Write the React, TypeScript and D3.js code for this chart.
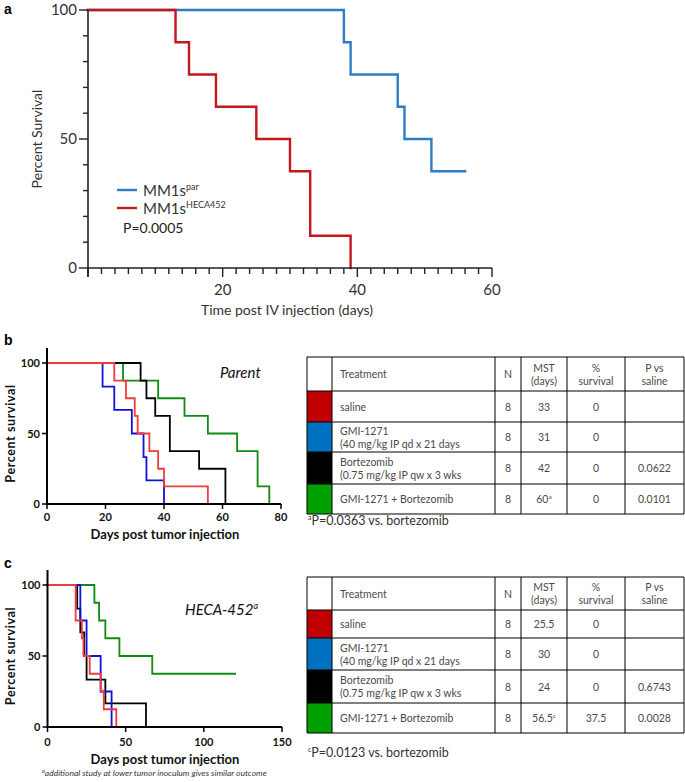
import React from "react";
import * as d3 from "d3";

// ---------- Panel a data ----------
const aParDays = [0, 38, 39, 46, 47, 51, 56];
const aParSurv = [100, 87.5, 75, 62.5, 50, 37.5, 37.5];
const aHecaDays = [0, 13, 15, 19, 25, 30, 33, 39];
const aHecaSurv = [100, 87.5, 75, 62.5, 50, 37.5, 12.5, 0];
const aXTicks = [20, 40, 60];
const aYTicks = [0, 50, 100];

// ---------- Panel b data (Parent) ----------
const bSalineDays = [0, 23, 27, 30, 31, 35, 38, 40, 55];
const bSalineSurv = [100, 87.5, 75, 62.5, 50, 37.5, 25, 12.5, 0];
const bGmiDays = [0, 19, 23, 29, 33, 34, 40];
const bGmiSurv = [100, 83.3, 66.7, 50, 33.3, 16.7, 0];
const bBortDays = [0, 32, 34, 37, 42, 52, 61];
const bBortSurv = [100, 87.5, 75, 62.5, 37.5, 25, 0];
const bComboDays = [0, 26, 38, 47, 55, 65, 72, 76];
const bComboSurv = [100, 87.5, 75, 62.5, 50, 37.5, 12.5, 0];
const bXTicks = [0, 20, 40, 60, 80];
const bYTicks = [0, 50, 100];

// ---------- Panel c data (HECA-452) ----------
const cSalineDays = [0, 18, 22, 23, 27, 34, 36, 44];
const cSalineSurv = [100, 75, 62.5, 50, 37.5, 25, 12.5, 0];
const cGmiDays = [0, 21, 25, 34, 41];
const cGmiSurv = [100, 75, 50, 25, 0];
const cBortDays = [0, 19, 21, 23.5, 25, 37, 63];
const cBortSurv = [100, 83.3, 66.7, 50, 33.3, 16.7, 0];
const cComboDays = [0, 30, 33, 37, 46, 67, 120];
const cComboSurv = [100, 87.5, 75, 62.5, 50, 37.5, 37.5];
const cXTicks = [0, 50, 100, 150];
const cYTicks = [0, 50, 100];

// ---------- Tables ----------
const tableHeaders = [["Treatment"], ["N"], ["MST", "(days)"], ["%", "survival"], ["P vs", "saline"]];
const treatments = [
  ["saline"],
  ["GMI-1271", "(40 mg/kg IP qd x 21 days"],
  ["Bortezomib", "(0.75 mg/kg IP qw x 3 wks"],
  ["GMI-1271 + Bortezomib"],
];
const treatmentColors = ["#C00000", "#0070C0", "#000000", "#00A000"];
const bN = ["8", "8", "8", "8"];
const bMST = ["33", "31", "42", "60"];
const bMSTSup = ["", "", "", "a"];
const bPct = ["0", "0", "0", "0"];
const bP = ["", "", "0.0622", "0.0101"];
const cN = ["8", "8", "8", "8"];
const cMST = ["25.5", "30", "24", "56.5"];
const cMSTSup = ["", "", "", "c"];
const cPct = ["0", "0", "0", "37.5"];
const cP = ["", "", "0.6743", "0.0028"];

const curveColors = { saline: "#F03C3C", gmi: "#1010E0", bort: "#000000", combo: "#138A13" };

const FONT = "Lato, 'Open Sans', sans-serif";

function Step({ days, surv, x, y, color, width }: any) {
  const pts: [number, number][] = days.map((d: number, i: number) => [d, surv[i]]);
  const line = d3
    .line<[number, number]>()
    .x((d) => x(d[0]))
    .y((d) => y(d[1]))
    .curve(d3.curveStepAfter);
  return <path d={line(pts) || ""} fill="none" stroke={color} strokeWidth={width} strokeLinejoin="miter" strokeLinecap="square" />;
}

function PanelA() {
  const x = d3.scaleLinear().domain([0, 60]).range([88, 492]);
  const y = d3.scaleLinear().domain([0, 100]).range([268, 10]);
  const minorX = d3.range(0, 61, 2);
  const minorY = d3.range(0, 101, 10);
  const axisColor = "#222";
  const textColor = "#333";
  return (
    <g>
      <text x={4} y={14} fontFamily="Arial, sans-serif" fontWeight="bold" fontSize={14}>a</text>
      <Step days={aParDays} surv={aParSurv} x={x} y={y} color="#2E7CC4" width={2.4} />
      <Step days={aHecaDays} surv={aHecaSurv} x={x} y={y} color="#C4171E" width={2.4} />
      <line x1={x(0)} x2={x(0)} y1={y(100)} y2={y(0) + 9} stroke={axisColor} strokeWidth={1.6} />
      <line x1={x(0)} x2={x(60)} y1={y(0)} y2={y(0)} stroke={axisColor} strokeWidth={1.6} />
      {minorX.map((t) => (
        <line key={"mx" + t} x1={x(t)} x2={x(t)} y1={y(0)} y2={y(0) + (t % 20 === 0 ? 9 : 6)} stroke={axisColor} strokeWidth={1.4} />
      ))}
      {minorY.map((t) => (
        <line key={"my" + t} x1={x(0) - (t % 50 === 0 ? 9 : 5)} x2={x(0)} y1={y(t)} y2={y(t)} stroke={axisColor} strokeWidth={1.4} />
      ))}
      {aXTicks.map((t) => (
        <text key={"xl" + t} x={x(t)} y={y(0) + 27} textAnchor="middle" fontFamily={FONT} fontSize={15} fill={textColor}>{t}</text>
      ))}
      {aYTicks.map((t) => (
        <text key={"yl" + t} x={x(0) - 11} y={y(t) + 5} textAnchor="end" fontFamily={FONT} fontSize={15} fill={textColor}>{t}</text>
      ))}
      <text transform={`translate(42,${y(50)}) rotate(-90)`} textAnchor="middle" fontFamily={FONT} fontSize={14} fill={textColor}>Percent Survival</text>
      <text x={287} y={315} textAnchor="middle" fontFamily={FONT} fontSize={14} fill={textColor}>Time post IV injection (days)</text>
      <line x1={117} x2={137} y1={190} y2={190} stroke="#2E7CC4" strokeWidth={2.4} />
      <text x={143} y={196} fontFamily={FONT} fontSize={15} fill={textColor}>
        MM1s<tspan fontSize={9} dy={-6}>par</tspan>
      </text>
      <line x1={117} x2={137} y1={208} y2={208} stroke="#C4171E" strokeWidth={2.4} />
      <text x={143} y={214} fontFamily={FONT} fontSize={15} fill={textColor}>
        MM1s<tspan fontSize={9} dy={-6}>HECA452</tspan>
      </text>
      <text x={123} y={233} fontFamily={FONT} fontSize={14} fill="#222">P=0.0005</text>
    </g>
  );
}

function SmallPanel({ label, labelY, x, y, xTicks, yTicks, yTop, series, title, titleSup, titleX, titleY, xLabelY, tickLabelY }: any) {
  const axisW = 2;
  return (
    <g>
      <text x={4} y={labelY} fontFamily="Arial, sans-serif" fontWeight="bold" fontSize={14}>{label}</text>
      {series.map((s: any, i: number) => (
        <Step key={i} days={s.days} surv={s.surv} x={x} y={y} color={s.color} width={1.8} />
      ))}
      <line x1={x(0)} x2={x(0)} y1={yTop} y2={y(0)} stroke="#000" strokeWidth={axisW} />
      <line x1={x(0) - 1} x2={x(xTicks[xTicks.length - 1])} y1={y(0)} y2={y(0)} stroke="#000" strokeWidth={axisW} />
      {xTicks.map((t: number) => (
        <g key={"xt" + t}>
          <line x1={x(t)} x2={x(t)} y1={y(0)} y2={y(0) + 5} stroke="#000" strokeWidth={1.5} />
          <text x={x(t)} y={tickLabelY} textAnchor="middle" fontFamily={FONT} fontWeight="bold" fontSize={11} fill="#111">{t}</text>
        </g>
      ))}
      {yTicks.map((t: number) => (
        <g key={"yt" + t}>
          <line x1={x(0) - 5} x2={x(0)} y1={y(t)} y2={y(t)} stroke="#000" strokeWidth={1.5} />
          <text x={x(0) - 7} y={y(t) + 4} textAnchor="end" fontFamily={FONT} fontWeight="bold" fontSize={11} fill="#111">{t}</text>
        </g>
      ))}
      <text transform={`translate(15,${y(50)}) rotate(-90)`} textAnchor="middle" fontFamily={FONT} fontWeight="bold" fontSize={12.5} letterSpacing={0.6} fill="#111">Percent survival</text>
      <text x={165} y={xLabelY} textAnchor="middle" fontFamily={FONT} fontWeight="bold" fontSize={13} fill="#111">Days post tumor injection</text>
      <text x={titleX} y={titleY} fontFamily={FONT} fontStyle="italic" fontSize={15} fill="#111">
        {title}
        {titleSup ? <tspan fontSize={9} dy={-6}>{titleSup}</tspan> : null}
      </text>
    </g>
  );
}

function Table({ rowYs, mst, mstSup, pct, p, n, footY, footSup, footText }: any) {
  const colX = [307, 332, 495, 521, 567, 625, 684];
  const tc = "#4a4a4a";
  const fs = 10.5;
  return (
    <g fontFamily={FONT} fontSize={fs} fill={tc}>
      {treatmentColors.map((c, i) => (
        <rect key={"c" + i} x={colX[0]} y={rowYs[i + 1]} width={colX[1] - colX[0]} height={rowYs[i + 2] - rowYs[i + 1]} fill={c} />
      ))}
      {rowYs.map((yy: number, i: number) => (
        <line key={"h" + i} x1={colX[0]} x2={colX[6]} y1={yy} y2={yy} stroke="#000" strokeWidth={1} />
      ))}
      {colX.map((xx: number, i: number) => (
        <line key={"v" + i} x1={xx} x2={xx} y1={rowYs[0]} y2={rowYs[rowYs.length - 1]} stroke="#000" strokeWidth={1} />
      ))}
      {tableHeaders.map((h, j) => {
        const cy = (rowYs[0] + rowYs[1]) / 2;
        const left = j === 0;
        const cx = left ? colX[1] + 8 : (colX[j + 1] + colX[j + 2]) / 2;
        return h.map((t, k) => (
          <text key={"hd" + j + k} x={cx} y={cy + 4 + (k - (h.length - 1) / 2) * 13} textAnchor={left ? "start" : "middle"}>{t}</text>
        ));
      })}
      {treatments.map((tr, i) => {
        const cy = (rowYs[i + 1] + rowYs[i + 2]) / 2;
        return (
          <g key={"r" + i}>
            {tr.map((t, k) => (
              <text key={k} x={colX[1] + 8} y={cy + 4 + (k - (tr.length - 1) / 2) * 13}>{t}</text>
            ))}
            <text x={(colX[2] + colX[3]) / 2} y={cy + 4} textAnchor="middle">{n[i]}</text>
            <text x={(colX[3] + colX[4]) / 2} y={cy + 4} textAnchor="middle">
              {mst[i]}
              {mstSup[i] ? <tspan fontSize={6.5} dy={-4}>{mstSup[i]}</tspan> : null}
            </text>
            <text x={(colX[4] + colX[5]) / 2} y={cy + 4} textAnchor="middle">{pct[i]}</text>
            <text x={(colX[5] + colX[6]) / 2} y={cy + 4} textAnchor="middle">{p[i]}</text>
          </g>
        );
      })}
      <text x={308} y={footY} fontSize={12.5} fill="#333">
        <tspan fontSize={7} dy={-5}>{footSup}</tspan>
        <tspan dy={5}>{footText}</tspan>
      </text>
    </g>
  );
}

export default function App() {
  const bx = d3.scaleLinear().domain([0, 80]).range([47, 281]);
  const by = d3.scaleLinear().domain([0, 100]).range([504, 363]);
  const cx = d3.scaleLinear().domain([0, 150]).range([47.5, 282]);
  const cy = d3.scaleLinear().domain([0, 100]).range([727, 585]);
  const bSeries = [
    { days: bComboDays, surv: bComboSurv, color: curveColors.combo },
    { days: bGmiDays, surv: bGmiSurv, color: curveColors.gmi },
    { days: bBortDays, surv: bBortSurv, color: curveColors.bort },
    { days: bSalineDays, surv: bSalineSurv, color: curveColors.saline },
  ];
  const cSeries = [
    { days: cComboDays, surv: cComboSurv, color: curveColors.combo },
    { days: cBortDays, surv: cBortSurv, color: curveColors.bort },
    { days: cGmiDays, surv: cGmiSurv, color: curveColors.gmi },
    { days: cSalineDays, surv: cSalineSurv, color: curveColors.saline },
  ];
  return (
    <svg width={685} height={782} style={{ position: "absolute", left: 0, top: 0, background: "#fff" }}>
      <rect x={0} y={0} width={685} height={782} fill="#fff" />
      <PanelA />
      <SmallPanel label="b" labelY={345} x={bx} y={by} xTicks={bXTicks} yTicks={bYTicks} yTop={348} series={bSeries}
        title="Parent" titleX={220} titleY={378} xLabelY={539} tickLabelY={521} />
      <SmallPanel label="c" labelY={568} x={cx} y={cy} xTicks={cXTicks} yTicks={cYTicks} yTop={570} series={cSeries}
        title="HECA-452" titleSup="a" titleX={185} titleY={615} xLabelY={764} tickLabelY={746} />
      <text x={42} y={776} fontFamily={FONT} fontStyle="italic" fontSize={8.5} fill="#333">
        <tspan fontSize={5.5} dy={-3}>a</tspan>
        <tspan dy={3}>additional study at lower tumor inoculum gives similar outcome</tspan>
      </text>
      <Table rowYs={[357, 391, 422, 452, 484, 514]} n={bN} mst={bMST} mstSup={bMSTSup} pct={bPct} p={bP}
        footY={525} footSup="a" footText="P=0.0363 vs. bortezomib" />
      <Table rowYs={[577, 610, 638, 670, 703, 733]} n={cN} mst={cMST} mstSup={cMSTSup} pct={cPct} p={cP}
        footY={757} footSup="c" footText="P=0.0123 vs. bortezomib" />
    </svg>
  );
}
